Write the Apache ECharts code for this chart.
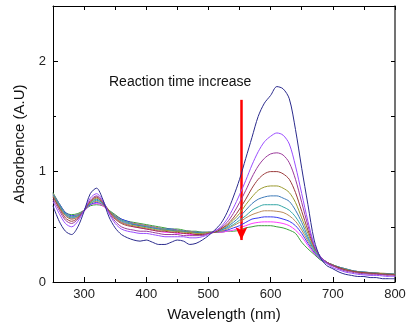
<!DOCTYPE html>
<html>
<head>
<meta charset="utf-8">
<script src="https://cdn.jsdelivr.net/npm/echarts@6/dist/echarts.min.js"></script>
<style>
  html, body { margin: 0; padding: 0; background: #fff; }
  #chart { width: 411px; height: 329px; }
</style>
</head>
<body>
<div id="chart"></div>
<script>
// wavelength grid (nm)
var wavelengths = [250,260,270,280,290,300,310,320,330,340,350,360,370,380,390,400,410,420,430,440,450,460,470,480,490,500,
  510,520,530,540,550,560,570,580,590,600,610,620,630,640,650,660,670,680,690,700,710,720,730,740,750,760,770,780,790,800];

// absorbance, one list per spectrum (reaction time increasing)
var navy = [0.69,0.55,0.46,0.43,0.50,0.64,0.80,0.85,0.75,0.59,0.49,0.43,0.40,0.38,0.37,0.38,0.36,0.34,0.34,0.36,0.38,0.37,0.34,0.35,0.38,0.42,
  0.47,0.53,0.63,0.77,0.93,1.12,1.31,1.50,1.62,1.69,1.77,1.75,1.66,1.38,1.03,0.70,0.38,0.22,0.15,0.12,0.09,0.07,0.06,0.05,0.05,0.04,0.04,0.03,0.03,0.03];
var violet = [0.73,0.62,0.53,0.50,0.55,0.65,0.76,0.80,0.74,0.62,0.53,0.48,0.46,0.45,0.44,0.44,0.43,0.42,0.41,0.41,0.41,0.41,0.40,0.40,0.41,0.43,
  0.46,0.50,0.57,0.67,0.79,0.92,1.06,1.18,1.27,1.32,1.35,1.33,1.25,1.05,0.80,0.55,0.34,0.23,0.17,0.13,0.11,0.09,0.08,0.07,0.065,0.06,0.06,0.055,0.05,0.05];
var purple = [0.75,0.65,0.56,0.53,0.57,0.65,0.74,0.78,0.73,0.63,0.55,0.50,0.48,0.47,0.46,0.46,0.45,0.44,0.43,0.43,0.43,0.42,0.42,0.42,0.42,0.44,
  0.46,0.49,0.54,0.62,0.72,0.83,0.95,1.05,1.12,1.16,1.17,1.15,1.08,0.93,0.72,0.51,0.33,0.23,0.18,0.15,0.12,0.10,0.09,0.08,0.075,0.07,0.07,0.065,0.06,0.06];
var wine = [0.77,0.67,0.58,0.55,0.58,0.65,0.73,0.77,0.72,0.64,0.57,0.53,0.51,0.50,0.49,0.48,0.47,0.46,0.46,0.45,0.45,0.44,0.44,0.43,0.43,0.44,
  0.45,0.48,0.52,0.58,0.66,0.75,0.85,0.93,0.98,1.00,1.00,0.98,0.93,0.81,0.64,0.47,0.32,0.23,0.18,0.15,0.13,0.11,0.10,0.09,0.085,0.08,0.075,0.07,0.07,0.065];
var olive = [0.78,0.68,0.60,0.57,0.59,0.65,0.72,0.76,0.72,0.65,0.58,0.54,0.52,0.51,0.50,0.49,0.48,0.47,0.47,0.46,0.46,0.45,0.45,0.44,0.44,0.45,
  0.45,0.48,0.51,0.56,0.62,0.70,0.77,0.83,0.86,0.87,0.87,0.85,0.81,0.72,0.58,0.44,0.31,0.23,0.18,0.155,0.13,0.115,0.10,0.09,0.085,0.08,0.08,0.075,0.07,0.07];
var steel = [0.79,0.69,0.61,0.58,0.60,0.65,0.72,0.75,0.71,0.65,0.59,0.55,0.53,0.52,0.51,0.50,0.49,0.48,0.47,0.47,0.46,0.46,0.45,0.45,0.44,0.45,
  0.45,0.47,0.50,0.54,0.59,0.65,0.71,0.75,0.77,0.78,0.78,0.76,0.73,0.65,0.54,0.41,0.30,0.23,0.18,0.155,0.135,0.12,0.105,0.095,0.09,0.085,0.08,0.075,0.075,0.07];
var teal = [0.79,0.70,0.62,0.59,0.60,0.65,0.71,0.74,0.71,0.65,0.59,0.56,0.54,0.52,0.51,0.50,0.49,0.48,0.48,0.47,0.46,0.46,0.45,0.45,0.45,0.45,
  0.45,0.47,0.49,0.52,0.56,0.60,0.65,0.68,0.70,0.70,0.70,0.68,0.65,0.59,0.50,0.39,0.29,0.22,0.18,0.155,0.135,0.12,0.105,0.095,0.09,0.085,0.08,0.075,0.075,0.07];
var tan = [0.80,0.70,0.62,0.59,0.61,0.65,0.71,0.73,0.70,0.65,0.60,0.56,0.54,0.53,0.52,0.51,0.50,0.49,0.48,0.47,0.47,0.46,0.46,0.45,0.45,0.45,
  0.45,0.46,0.48,0.51,0.54,0.58,0.61,0.63,0.645,0.645,0.64,0.63,0.60,0.55,0.47,0.37,0.28,0.22,0.18,0.155,0.135,0.12,0.105,0.095,0.09,0.085,0.08,0.08,0.075,0.07];
var blue = [0.80,0.71,0.63,0.60,0.61,0.65,0.70,0.72,0.70,0.65,0.60,0.57,0.55,0.53,0.52,0.51,0.50,0.49,0.48,0.48,0.47,0.46,0.46,0.45,0.45,0.45,
  0.45,0.46,0.47,0.49,0.51,0.54,0.57,0.58,0.59,0.59,0.585,0.57,0.55,0.51,0.44,0.35,0.27,0.21,0.175,0.15,0.13,0.115,0.10,0.09,0.085,0.08,0.08,0.075,0.07,0.07];
var magenta = [0.78,0.68,0.60,0.57,0.59,0.64,0.70,0.71,0.69,0.64,0.58,0.54,0.52,0.50,0.49,0.48,0.47,0.46,0.45,0.45,0.44,0.44,0.43,0.43,0.43,0.44,
  0.45,0.45,0.46,0.47,0.49,0.51,0.53,0.54,0.545,0.545,0.54,0.53,0.51,0.47,0.41,0.33,0.26,0.21,0.17,0.145,0.125,0.11,0.10,0.09,0.085,0.08,0.075,0.07,0.07,0.065];
var green = [0.81,0.71,0.63,0.61,0.62,0.65,0.69,0.70,0.69,0.65,0.61,0.57,0.55,0.54,0.53,0.52,0.51,0.50,0.49,0.48,0.48,0.47,0.46,0.46,0.45,0.45,
  0.45,0.45,0.46,0.46,0.47,0.49,0.50,0.51,0.51,0.51,0.50,0.49,0.47,0.44,0.36,0.30,0.25,0.20,0.17,0.145,0.125,0.11,0.10,0.09,0.085,0.08,0.08,0.075,0.07,0.07];

var spectra = [navy, violet, purple, wine, olive, steel, teal, tan, blue, magenta, green];
var colors = ['#2a2a8c','#9a4dff','#9a3a9a','#9a3a3a','#9a9a2e','#3d7ab8','#33a6a6','#b88a5a','#3838f0','#ff3cff','#3aa03a'];

// arrow: start/end in data units
var arrowX = 553;
var arrowTop = 1.65;
var arrowBottom = 0.38;

var xMajor = [300,400,500,600,700,800];
var xMinor = [350,450,550,650,750];
var yMajor = [0,1,2];
var yMinor = [0.5,1.5];

var myChart = echarts.init(document.getElementById('chart'));

var lineStyleAxis = { color: '#000', width: 1 };
var labelFont = { color: '#222', fontSize: 13, fontFamily: 'Liberation Sans, Arial, sans-serif' };

var series = [];
for (var i = 0; i < spectra.length; i++) {
    var pts = [];
    for (var j = 0; j < wavelengths.length; j++) {
        pts.push([wavelengths[j], spectra[i][j]]);
    }
    series.push({
        type: 'line',
        data: pts,
        showSymbol: false,
        smooth: 0.3,
        lineStyle: { width: 1, color: colors[i] },
        z: 2 + (spectra.length - i)
    });
}
// red arrow
series.push({
    type: 'line',
    data: [],
    markLine: {
        silent: true,
        symbol: ['none', 'arrow'],
        symbolSize: [9, 13],
        label: { show: false },
        lineStyle: { color: '#ff0000', width: 2.5, type: 'solid' },
        data: [[{ coord: [arrowX, arrowTop] }, { coord: [arrowX, arrowBottom] }]]
    },
    z: 20
});

var option = {
    animation: false,
    grid: { left: 53, right: 16, top: 6, bottom: 47 },
    xAxis: [
        {
            type: 'value', min: 250, max: 800, interval: 50, position: 'bottom',
            axisLine: { show: true, lineStyle: lineStyleAxis },
            axisTick: { show: true, inside: true, length: 5, customValues: xMajor, lineStyle: lineStyleAxis },
            axisLabel: Object.assign({ customValues: xMajor, margin: 6 }, labelFont),
            splitLine: { show: false },
            name: 'Wavelength (nm)', nameLocation: 'middle', nameGap: 25,
            nameTextStyle: { color: '#111', fontSize: 15, fontFamily: 'Liberation Sans, Arial, sans-serif' }
        },
        {
            type: 'value', min: 250, max: 800, interval: 50, position: 'bottom',
            axisLine: { show: false },
            axisTick: { show: true, inside: true, length: 3, customValues: xMinor, lineStyle: lineStyleAxis },
            axisLabel: { show: false }, splitLine: { show: false }
        },
        {
            type: 'value', min: 250, max: 800, interval: 50, position: 'top',
            axisLine: { show: true, onZero: false, lineStyle: lineStyleAxis },
            axisTick: { show: true, inside: true, length: 4, lineStyle: lineStyleAxis },
            axisLabel: { show: false }, splitLine: { show: false }
        }
    ],
    yAxis: [
        {
            type: 'value', min: 0, max: 2.5, interval: 0.5, position: 'left',
            axisLine: { show: true, lineStyle: lineStyleAxis },
            axisTick: { show: true, inside: true, length: 5, customValues: yMajor, lineStyle: lineStyleAxis },
            axisLabel: Object.assign({ customValues: yMajor, margin: 7 }, labelFont),
            splitLine: { show: false },
            name: 'Absorbence (A.U)', nameLocation: 'middle', nameGap: 26,
            nameTextStyle: { color: '#111', fontSize: 15, fontFamily: 'Liberation Sans, Arial, sans-serif' }
        },
        {
            type: 'value', min: 0, max: 2.5, interval: 0.5, position: 'left',
            axisLine: { show: false },
            axisTick: { show: true, inside: true, length: 3, customValues: yMinor, lineStyle: lineStyleAxis },
            axisLabel: { show: false }, splitLine: { show: false }
        },
        {
            type: 'value', min: 0, max: 2.5, interval: 0.5, position: 'right',
            axisLine: { show: true, onZero: false, lineStyle: { color: '#444', width: 1.5 } },
            axisTick: { show: true, inside: true, length: 4, lineStyle: lineStyleAxis },
            axisLabel: { show: false }, splitLine: { show: false }
        }
    ],
    graphic: [{
        type: 'text', left: 109, top: 75,
        style: { text: 'Reaction time increase', fill: '#111', fontSize: 14, fontFamily: 'Liberation Sans, Arial, sans-serif' }
    }],
    series: series
};

myChart.setOption(option);
</script>
</body>
</html>
